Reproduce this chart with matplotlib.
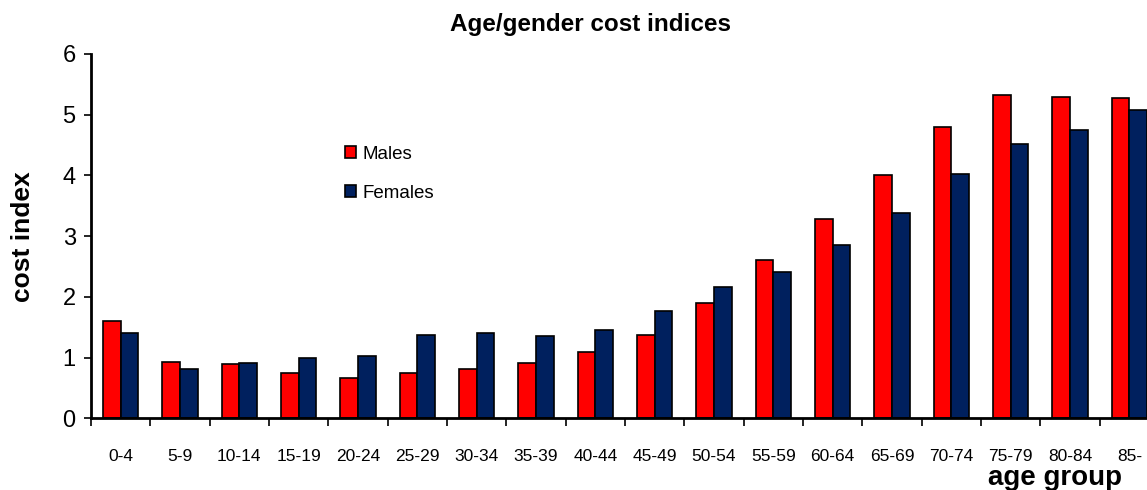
import numpy as np
import matplotlib.pyplot as plt
from matplotlib.ticker import FixedLocator

plt.rcParams['font.family'] = ['Liberation Sans', 'DejaVu Sans']

age_groups = ["0-4", "5-9", "10-14", "15-19", "20-24", "25-29", "30-34", "35-39",
              "40-44", "45-49", "50-54", "55-59", "60-64", "65-69", "70-74", "75-79",
              "80-84", "85-"]
males = [1.60, 0.93, 0.89, 0.74, 0.66, 0.74, 0.82, 0.91, 1.09, 1.38, 1.90, 2.60,
         3.28, 4.00, 4.80, 5.32, 5.29, 5.27]
females = [1.41, 0.82, 0.91, 0.99, 1.03, 1.38, 1.41, 1.36, 1.46, 1.76, 2.16, 2.41,
           2.85, 3.38, 4.03, 4.52, 4.75, 5.08]

fig = plt.figure(figsize=(11.47, 4.9), dpi=100)
# axis runs past the right edge like the original (last group is cut off)
ax = fig.add_axes([91 / 1147, 71.7 / 490, 1068 / 1147, 364.3 / 490])

x = np.arange(len(age_groups))
w = 0.3
ax.bar(x - w / 2, males, w, color="#FF0000", edgecolor="black", linewidth=1.2, label="Males")
ax.bar(x + w / 2, females, w, color="#00205E", edgecolor="black", linewidth=1.2, label="Females")

ax.set_xlim(-0.5, len(age_groups) - 0.5)
ax.set_ylim(0, 6)
ax.set_yticks(range(7))
ax.tick_params(axis="y", labelsize=17, length=5, width=1.2, direction="out", pad=6)

ax.set_xticks(x)
ax.set_xticklabels(age_groups, fontsize=12.5)
ax.tick_params(axis="x", which="major", length=0, pad=22)
ax.xaxis.set_minor_locator(FixedLocator(np.arange(-0.5, len(age_groups), 1)))
ax.tick_params(axis="x", which="minor", length=6, width=1.2, direction="out")

for s in ["top", "right"]:
    ax.spines[s].set_visible(False)
ax.spines["left"].set_linewidth(2)
ax.spines["bottom"].set_linewidth(2)

ax.legend(loc="upper left", bbox_to_anchor=(0.222, 0.795), frameon=False, fontsize=13.5,
          handlelength=0.6, handleheight=0.6, handletextpad=0.35, labelspacing=1.2)

fig.text(590 / 1147, 1 - 24 / 490, "Age/gender cost indices", ha="center", va="center",
         fontsize=17.5, fontweight="bold")
fig.text(23 / 1147, 1 - 237 / 490, "cost index", ha="center", va="center", rotation=90,
         fontsize=19, fontweight="bold")
fig.text(1055 / 1147, 1 - 478 / 490, "age group", ha="center", va="center",
         fontsize=20, fontweight="bold")

fig.savefig("out.png", dpi=100)
